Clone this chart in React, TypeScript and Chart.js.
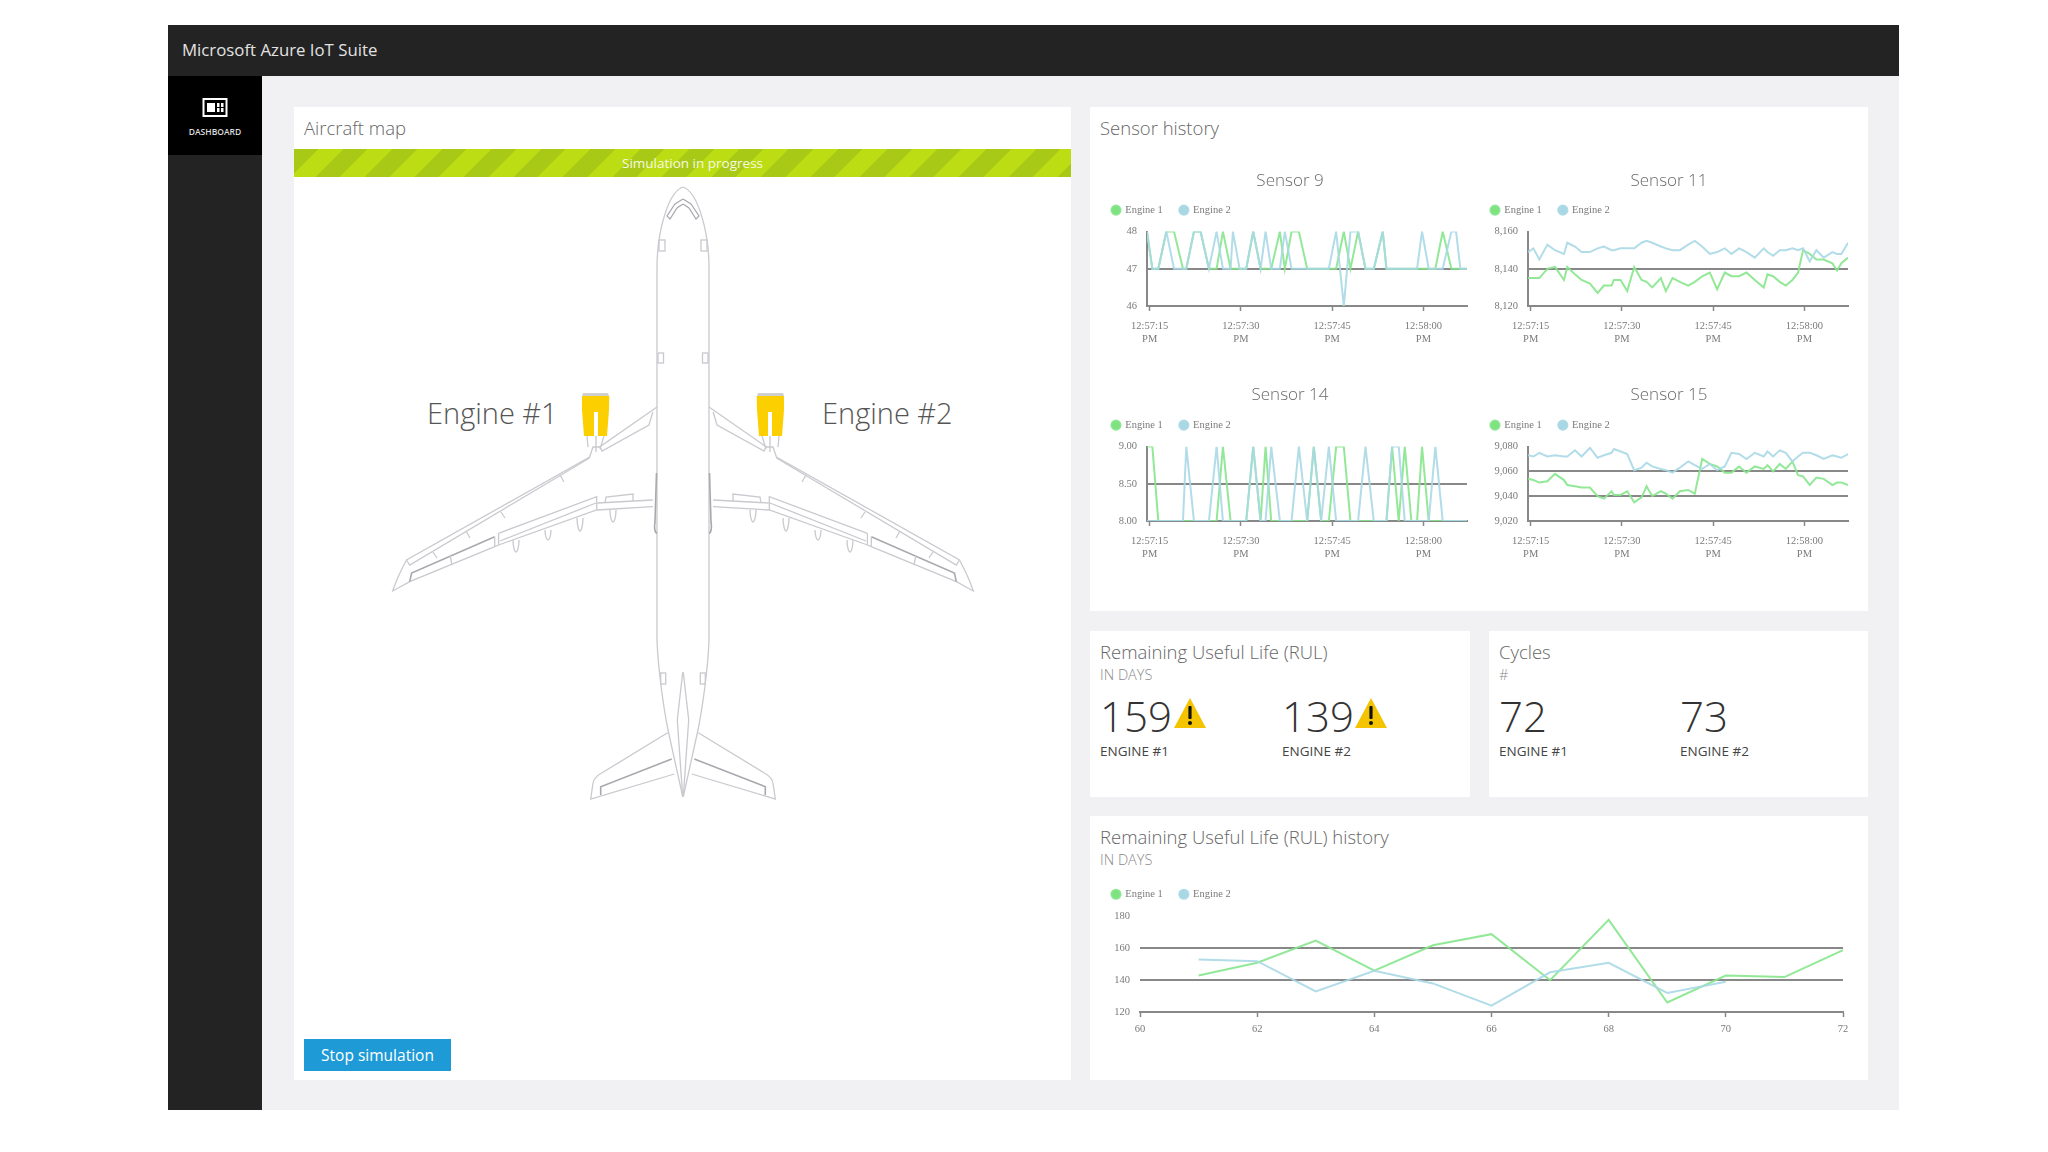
import React, { useEffect, useRef } from "react";
import { Chart, registerables } from "chart.js";

Chart.register(...registerables);

const sensorTimes = [
  14.56, 15.44, 16.42, 17.74, 19.0, 20.47, 21.02, 22.28, 23.37, 24.74,
  26.0, 27.04, 28.3, 28.68, 29.78, 30.87, 32.02, 33.23, 34.05, 34.98,
  36.4, 37.22, 38.32, 39.52, 40.89, 41.98, 43.19, 44.45, 45.65, 46.91,
  48.0, 49.26, 50.47, 51.84, 53.31, 53.92, 54.85, 55.94, 56.93, 58.02,
  58.95, 59.77, 60.87, 61.96, 63.17, 64.59, 65.36, 66.07, 67.16,
];

const sensor9Engine1 = [
  48, 47, 47, 48, 48, 47, 47, 48, 48, 47,
  47, 48, 47, 47, 47, 47, 48, 47, 47, 47,
  48, 47, 48, 48, 47, 47, 47, 47, 47, 48,
  47, 48, 47, 47, 48, 47, 47, 47, 47, 47,
  47, 47, 47, 47, 48, 47, 47, 47, 47,
];
const sensor9Engine2 = [
  48, 47, 47, 48, 47, 47, 47, 48, 48, 47,
  48, 47, 47, 48, 47, 47, 48, 47, 48, 47,
  47, 48, 47, 47, 47, 47, 47, 47, 48, 46,
  48, 48, 47, 47, 48, 47, 47, 47, 47, 47,
  47, 48, 47, 47, 47, 48, 48, 47, 47,
];
const sensor11Engine1 = [
  8135, 8135, 8135, 8140, 8141, 8134, 8141, 8137, 8134, 8132,
  8127, 8131, 8131, 8134, 8134, 8128, 8141, 8134, 8133, 8130,
  8135, 8128, 8135, 8133, 8131, 8133, 8136, 8138, 8129, 8138,
  8136, 8136, 8138, 8134, 8130, 8137, 8136, 8133, 8131, 8134,
  8138, 8150, 8148, 8145, 8145, 8143, 8139, 8143, 8146,
];
const sensor11Engine2 = [
  8149, 8151, 8145, 8153, 8150, 8148, 8154, 8152, 8149, 8149,
  8151, 8152, 8150, 8150, 8151, 8151, 8151, 8154, 8155, 8154,
  8152, 8151, 8150, 8150, 8153, 8155, 8152, 8148, 8149, 8151,
  8148, 8151, 8149, 8146, 8151, 8149, 8147, 8150, 8150, 8151,
  8150, 8151, 8144, 8150, 8146, 8149, 8148, 8148, 8154,
];
const sensor14Engine1 = [
  9, 9, 8, 8, 8, 8, 8, 8, 8, 8,
  8, 9, 8, 8, 8, 8, 9, 8, 9, 8,
  8, 8, 8, 8, 8, 9, 8, 8, 9, 9,
  8, 8, 8, 8, 8, 8, 9, 8, 9, 8,
  8, 9, 8, 8, 8, 8, 8, 8, 8,
];
const sensor14Engine2 = [
  8, 8, 8, 8, 8, 8, 9, 8, 8, 8,
  9, 8, 8, 8, 8, 8, 9, 8, 8, 9,
  8, 8, 8, 9, 8, 9, 8, 9, 8, 8,
  8, 8, 9, 8, 8, 8, 9, 9, 8, 8,
  8, 8, 8, 9, 8, 8, 8, 8, 8,
];
const sensor15Engine1 = [
  9054, 9053, 9051, 9052, 9058, 9053, 9049, 9048, 9047, 9047,
  9040, 9038, 9044, 9041, 9041, 9044, 9035, 9039, 9048, 9040,
  9044, 9042, 9038, 9044, 9045, 9042, 9070, 9066, 9064, 9059,
  9059, 9064, 9059, 9064, 9062, 9065, 9060, 9066, 9062, 9068,
  9057, 9056, 9049, 9055, 9054, 9049, 9051, 9051, 9049,
];
const sensor15Engine2 = [
  9073, 9072, 9075, 9072, 9073, 9072, 9072, 9077, 9072, 9079,
  9071, 9073, 9075, 9078, 9076, 9074, 9061, 9063, 9067, 9064,
  9062, 9061, 9059, 9063, 9068, 9065, 9062, 9066, 9061, 9064,
  9075, 9074, 9070, 9075, 9072, 9076, 9072, 9077, 9075, 9068,
  9072, 9075, 9075, 9073, 9070, 9073, 9072, 9071, 9074,
];

const rulCycles = [61, 62, 63, 64, 65, 66, 67, 68, 69, 70, 71, 72];
const rulEngine1 = [143, 151, 165, 146, 162, 169, 140, 178, 126, 143, 142, 159];
const rulEngine2 = [153, 152, 133, 146, 138, 124, 145, 151, 132, 139, null, null];

const seriesNames = ["Engine 1", "Engine 2"];

const GREEN = "rgba(134,230,140,0.9)";
const BLUE = "rgba(168,216,230,0.9)";
const AXIS = "#888888";
const TICK_TEXT = "#7a7a7a";
const SERIF = "'Liberation Serif', serif";
const LIGHT = "'Open Sans', 'Noto Sans', sans-serif";

function toPoints(xs: number[], ys: (number | null)[]) {
  return xs.map((x, i) => ({ x, y: ys[i] }));
}

function clock(seconds: number) {
  if (seconds >= 60) return ["12:58:" + String(seconds - 60).padStart(2, "0"), "PM"];
  return ["12:57:" + String(seconds).padStart(2, "0"), "PM"];
}

type LineProps = {
  left: number;
  top: number;
  width: number;
  height: number;
  title?: string;
  titlePadTop?: number;
  titlePadBottom?: number;
  spacer: number;
  tickPad: number;
  xs: number[];
  e1: (number | null)[];
  e2: (number | null)[];
  xMin: number;
  xMax: number;
  xStep: number;
  xFormat: (v: number) => string | string[];
  yMin: number;
  yMax: number;
  yStep: number;
  yFormat: (v: number) => string;
  yAxisWidth: number;
  xAxisHeight: number;
  rightPad: number;
  leftBorder: boolean;
};

function LineChart(p: LineProps) {
  const ref = useRef<HTMLCanvasElement | null>(null);
  useEffect(() => {
    if (!ref.current) return;
    const chart = new Chart(ref.current, {
      type: "line",
      data: {
        datasets: [
          {
            label: seriesNames[0],
            data: toPoints(p.xs, p.e1),
            borderColor: GREEN,
            backgroundColor: "#7ee27e",
            borderWidth: 2,
            pointRadius: 0,
            tension: 0,
            order: 2,
          },
          {
            label: seriesNames[1],
            data: toPoints(p.xs, p.e2),
            borderColor: BLUE,
            backgroundColor: "#a9d8e4",
            borderWidth: 2,
            pointRadius: 0,
            tension: 0,
            order: 1,
          },
        ] as any,
      },
      options: {
        responsive: false,
        animation: false,
        devicePixelRatio: 1,
        plugins: {
          tooltip: { enabled: false },
          title: {
            display: !!p.title,
            text: p.title,
            color: "#6a6a6a",
            font: { family: LIGHT, size: 17, weight: 300 as any },
            padding: { top: p.titlePadTop ?? 7.3, bottom: p.titlePadBottom ?? -3.8 },
          },
          subtitle: {
            display: true,
            text: " ",
            weight: 500,
            font: { size: 1 },
            padding: { top: p.spacer, bottom: 0 },
          },
          legend: {
            display: true,
            position: "top",
            align: "start",
            labels: {
              usePointStyle: true,
              pointStyle: "circle",
              boxWidth: 8,
              boxHeight: 6.5,
              padding: 17,
              color: "#7a7a7a",
              font: { family: SERIF, size: 10.5 },
              sort: (a: any, b: any) => a.datasetIndex - b.datasetIndex,
            },
          },
        },
        scales: {
          x: {
            type: "linear",
            min: p.xMin,
            max: p.xMax,
            afterFit: (s: any) => {
              s.height = p.xAxisHeight;
              s.paddingRight = p.rightPad;
              s.paddingLeft = 0;
            },
            border: { display: true, color: AXIS, width: 2 },
            grid: { drawOnChartArea: false, drawTicks: true, tickLength: 5, tickColor: AXIS, tickWidth: 1.5 },
            ticks: {
              stepSize: p.xStep,
              includeBounds: false,
              autoSkip: false,
              maxRotation: 0,
              padding: p.tickPad,
              color: TICK_TEXT,
              font: { family: SERIF, size: 10.5 },
              callback: (v: any) => p.xFormat(Number(v)),
            },
          },
          y: {
            type: "linear",
            min: p.yMin,
            max: p.yMax,
            afterFit: (s: any) => {
              s.width = p.yAxisWidth;
            },
            border: { display: p.leftBorder, color: AXIS, width: 2 },
            grid: {
              drawTicks: false,
              lineWidth: 2,
              color: (c: any) => (c.tick && c.tick.value === p.yMax ? "rgba(0,0,0,0)" : AXIS),
            },
            ticks: {
              stepSize: p.yStep,
              padding: 10,
              color: TICK_TEXT,
              font: { family: SERIF, size: 10.5 },
              callback: (v: any) => p.yFormat(Number(v)),
            },
          },
        },
      } as any,
    });
    return () => chart.destroy();
  }, []);
  return (
    <canvas
      ref={ref}
      width={p.width}
      height={p.height}
      style={{ position: "absolute", left: p.left, top: p.top, width: p.width, height: p.height }}
    />
  );
}

const comma = (v: number) => v.toLocaleString("en-US");

const sensorBase = {
  width: 390,
  height: 186,
  spacer: 5,
  tickPad: 9,
  xs: sensorTimes,
  xMin: 14.56,
  xMax: 67.16,
  xStep: 15,
  xFormat: clock,
  xAxisHeight: 44,
  leftBorder: true,
};

function Text(props: {
  x: number;
  y: number;
  size: number;
  color?: string;
  weight?: number;
  family?: string;
  children: React.ReactNode;
}) {
  return (
    <div
      style={{
        position: "absolute",
        left: props.x,
        top: props.y,
        transform: "translateY(-50%)",
        fontFamily: props.family || LIGHT,
        fontSize: props.size,
        fontWeight: props.weight ?? 300,
        color: props.color || "#666",
        whiteSpace: "nowrap",
        lineHeight: 1,
      }}
    >
      {props.children}
    </div>
  );
}

function Panel({ x, y, w, h }: { x: number; y: number; w: number; h: number }) {
  return <div style={{ position: "absolute", left: x, top: y, width: w, height: h, background: "#fff" }} />;
}

function Warning({ x, y }: { x: number; y: number }) {
  return (
    <svg style={{ position: "absolute", left: x, top: y }} width={32} height={30} viewBox="0 0 32 30">
      <path d="M16 0 L32 30 L0 30 Z" fill="#f5c400" />
      <rect x={14.4} y={8} width={3.2} height={13} rx={1} fill="#111" />
      <circle cx={16} cy={25} r={2} fill="#111" />
    </svg>
  );
}

function HalfPlane() {
  const s = { fill: "none", stroke: "#c9c9cf", strokeWidth: 1.3 };
  const dark = { fill: "none", stroke: "#a8a8ae", strokeWidth: 1.6 };
  return (
    <g>
      {/* fuselage */}
      <path {...s} d="M683 187 C668 192 657 232 657 268 L657 640 C658 670 664 710 668 730 L682.7 796.7" />
      {/* cockpit */}
      <path {...dark} strokeWidth={1.2} d="M683 199 L675 204 L667 216 L670 219 L677 208 L683 204" />
      {/* doors */}
      <rect {...s} x={659} y={240} width={6} height={11} />
      <rect {...s} x={658} y={353} width={5.5} height={10} />
      <rect {...s} x={660.7} y={673} width={5} height={11} />
      {/* wing outline */}
      <path {...s} d="M657 407 L599.5 447 L593 447 L589.6 457 L406.5 560 C400 572 395 584 392.7 591 L409.7 581.7 L494.7 546.7 L498.6 545 L596.7 510 L653 506.7" />
      {/* inboard slat */}
      <path {...s} d="M652.8 412 L649 425 L602 451 L599.5 446" />
      {/* outboard slat line */}
      <path {...s} d="M589.6 458 L409.7 565 L406.5 560" />
      <path {...s} d="M560 475 L564 482 M501 512 L505 518 M466 531 L470 538 M433 552 L437 558" />
      {/* flaps */}
      <path {...dark} d="M494.7 536.7 L411.6 573 L409.7 581.7" />
      <path {...s} d="M494.7 536.7 L494.7 546.7 M450 555 L452 565" />
      <path {...s} d="M498.6 533.3 L596.7 496.7 L596.7 510 M498.6 533.3 L498.6 545 M500 541 L596 503 M597.5 503 L652.8 500" />
      <path {...s} d="M605 503 L606 497 L633 494 L633 501" />
      {/* flap track fairings */}
      <path {...s} d="M513 540 C513 548 515 552 516 552 C517 552 519 548 519 540" />
      <path {...s} d="M545 530 C545 537 547 540 548 540 C549 540 551 537 551 530" />
      <path {...s} d="M577 518 C577 526 579 531 580 531 C581 531 583 526 583 518" />
      <path {...s} d="M610 510 C610 518 612 522 613 522 C614 522 616 518 616 510" />
      {/* wing root */}
      <path {...dark} d="M656.5 473 L655 522 C654 528 655 533 657 533" />
      {/* pylon */}
      <path {...s} d="M587 436 L588 447 M604 436 L600 449 M596 436 L596 452" />
      {/* engine */}
      <path d="M583 393 L608 393 L609 396 L582 396 Z" fill="#cfcfd2" />
      <path
        d="M582 396 L609.3 396 L609 410 L607 436 L598 436 L598 412 L594 412 L594 436 L584 436 L582 410 Z"
        fill="#fccf00"
      />
      {/* tail */}
      <path {...s} d="M682.7 672.3 L677.3 720 L682.7 796.7" />
      <path {...s} d="M667.7 732.7 L601.7 773 C596 776 593 780 592.7 785 L590.7 799 L674.3 774" />
      <path {...dark} d="M671.7 759 L600.7 786.7 L600.7 795" />
    </g>
  );
}

export default function App() {
  return (
    <div
      style={{
        position: "absolute",
        left: 0,
        top: 0,
        width: 2048,
        height: 1152,
        overflow: "hidden",
        background: "#fff",
        filter: "blur(0.6px)",
      }}
    >
      {/* frame */}
      <div style={{ position: "absolute", left: 168, top: 25, width: 1731, height: 1085, background: "#f1f1f3" }} />
      <div style={{ position: "absolute", left: 168, top: 25, width: 1731, height: 51, background: "#232323" }} />
      <div style={{ position: "absolute", left: 168, top: 76, width: 94, height: 1034, background: "#232323" }} />
      <div style={{ position: "absolute", left: 168, top: 76, width: 94, height: 79, background: "#000" }} />
      <Text x={182} y={50} size={16.8} color="#e2e2e2" weight={400}>Microsoft Azure IoT Suite</Text>
      <svg style={{ position: "absolute", left: 202, top: 97 }} width={26} height={22} viewBox="0 0 26 22">
        <rect x={1.5} y={2} width={23} height={17} fill="none" stroke="#fff" strokeWidth={2} />
        <rect x={5} y={6} width={8} height={9} fill="#fff" />
        <rect x={15} y={6} width={2.5} height={4} fill="#fff" />
        <rect x={19} y={6} width={2.5} height={4} fill="#fff" />
        <rect x={15} y={11} width={2.5} height={4} fill="#fff" />
        <rect x={19} y={11} width={2.5} height={4} fill="#fff" />
      </svg>
      <div
        style={{
          position: "absolute",
          left: 168,
          width: 94,
          top: 126,
          textAlign: "center",
          fontFamily: LIGHT,
          fontWeight: 600,
          fontSize: 8.5,
          color: "#ddd",
        }}
      >
        DASHBOARD
      </div>

      {/* panels */}
      <Panel x={294} y={107} w={777} h={973} />
      <Panel x={1090} y={107} w={778} h={504} />
      <Panel x={1090} y={631} w={380} h={166} />
      <Panel x={1489} y={631} w={379} h={166} />
      <Panel x={1090} y={816} w={778} h={264} />

      {/* aircraft map */}
      <Text x={304} y={128} size={18.5}>Aircraft map</Text>
      <div
        style={{
          position: "absolute",
          left: 294,
          top: 149,
          width: 777,
          height: 28,
          background: "repeating-linear-gradient(135deg, #a9c917 0 17px, #bcdc14 17px 35px)",
        }}
      />
      <div
        style={{
          position: "absolute",
          left: 294,
          top: 149,
          width: 797,
          height: 28,
          lineHeight: "28px",
          textAlign: "center",
          fontFamily: LIGHT,
          fontSize: 13.5,
          color: "#f6f9e0",
        }}
      >
        Simulation in progress
      </div>
      <svg style={{ position: "absolute", left: 0, top: 0 }} width={2048} height={1152} viewBox="0 0 2048 1152">
        <HalfPlane />
        <g transform="translate(1366,0) scale(-1,1)">
          <HalfPlane />
        </g>
      </svg>
      <Text x={427} y={412} size={29} color="#555">Engine #1</Text>
      <Text x={822} y={412} size={29} color="#555">Engine #2</Text>
      <div
        style={{
          position: "absolute",
          left: 304,
          top: 1039,
          width: 147,
          height: 32,
          lineHeight: "32px",
          textAlign: "center",
          background: "#1e9ad6",
          color: "#fff",
          fontFamily: LIGHT,
          fontWeight: 400,
          fontSize: 15.5,
        }}
      >
        Stop simulation
      </div>

      {/* sensor history */}
      <Text x={1100} y={128} size={18.5}>Sensor history</Text>
      <LineChart
        {...sensorBase}
        left={1095}
        top={164}
        title="Sensor 9"
        e1={sensor9Engine1}
        e2={sensor9Engine2}
        yMin={46}
        yMax={48}
        yStep={1}
        yFormat={(v) => String(v)}
        yAxisWidth={52}
        rightPad={18}
      />
      <LineChart
        {...sensorBase}
        left={1474}
        top={164}
        title="Sensor 11"
        e1={sensor11Engine1}
        e2={sensor11Engine2}
        yMin={8120}
        yMax={8160}
        yStep={20}
        yFormat={comma}
        yAxisWidth={54}
        rightPad={16}
      />
      <LineChart
        {...sensorBase}
        left={1095}
        top={379}
        title="Sensor 14"
        titlePadTop={5.8}
        titlePadBottom={-2.3}
        e1={sensor14Engine1}
        e2={sensor14Engine2}
        yMin={8}
        yMax={9}
        yStep={0.5}
        yFormat={(v) => v.toFixed(2)}
        yAxisWidth={52}
        rightPad={18}
      />
      <LineChart
        {...sensorBase}
        left={1474}
        top={379}
        title="Sensor 15"
        titlePadTop={5.8}
        titlePadBottom={-2.3}
        e1={sensor15Engine1}
        e2={sensor15Engine2}
        yMin={9020}
        yMax={9080}
        yStep={20}
        yFormat={comma}
        yAxisWidth={54}
        rightPad={16}
      />

      {/* RUL */}
      <Text x={1100} y={652} size={18.5}>Remaining Useful Life (RUL)</Text>
      <Text x={1100} y={675} size={14.5} color="#8a8a8a">IN DAYS</Text>
      <Text x={1100} y={716} size={42} color="#333">159</Text>
      <Text x={1100} y={752} size={13.5} color="#444" weight={400}>ENGINE #1</Text>
      <Warning x={1174} y={698} />
      <Text x={1282} y={716} size={42} color="#333">139</Text>
      <Text x={1282} y={752} size={13.5} color="#444" weight={400}>ENGINE #2</Text>
      <Warning x={1355} y={698} />

      {/* cycles */}
      <Text x={1499} y={652} size={18.5}>Cycles</Text>
      <Text x={1499} y={675} size={14.5} color="#8a8a8a">#</Text>
      <Text x={1499} y={716} size={42} color="#333">72</Text>
      <Text x={1499} y={752} size={13.5} color="#444" weight={400}>ENGINE #1</Text>
      <Text x={1680} y={716} size={42} color="#333">73</Text>
      <Text x={1680} y={752} size={13.5} color="#444" weight={400}>ENGINE #2</Text>

      {/* RUL history */}
      <Text x={1100} y={837} size={18.5}>Remaining Useful Life (RUL) history</Text>
      <Text x={1100} y={860} size={14.5} color="#8a8a8a">IN DAYS</Text>
      <LineChart
        left={1095}
        top={872}
        width={755}
        height={172}
        spacer={6}
        tickPad={6}
        xs={rulCycles}
        e1={rulEngine1}
        e2={rulEngine2}
        xMin={60}
        xMax={72}
        xStep={2}
        xFormat={(v) => String(v)}
        yMin={120}
        yMax={180}
        yStep={20}
        yFormat={(v) => String(v)}
        yAxisWidth={45}
        xAxisHeight={32}
        rightPad={7}
        leftBorder={false}
      />
    </div>
  );
}
